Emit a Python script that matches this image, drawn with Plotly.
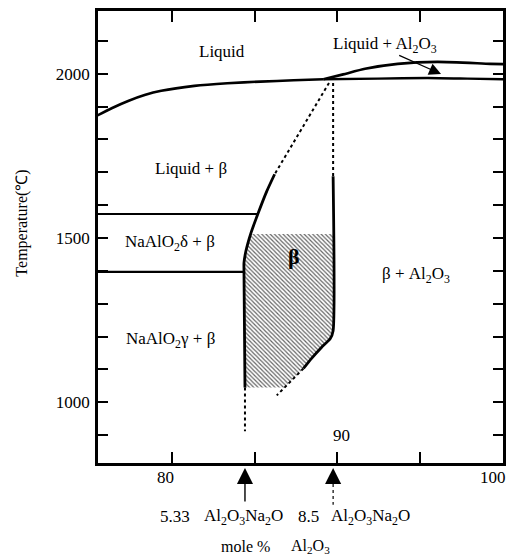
import plotly.graph_objects as go

# ---------------- data ----------------
# liquidus (left, rising to the peritectic point)
liquidus_x = [75.40, 76.31, 77.31, 78.31, 79.32, 81.33, 83.33, 85.34, 87.35, 89.16]
liquidus_T = [1872, 1895, 1917, 1935, 1948, 1963, 1971, 1976, 1980, 1983]
# lower horizontal line (beta + Al2O3 / liquid + Al2O3 boundary)
lower_x = [89.16, 92.47, 95.48, 97.90, 100.10]
lower_T = [1983, 1985, 1987, 1985, 1983]
# upper Al2O3 liquidus
upper_x = [89.16, 90.36, 91.69, 93.67, 96.08, 99.28, 100.10]
upper_T = [1983, 1998, 2015, 2030, 2036, 2030, 2029]
# left beta boundary (solid)
bleft_x = [86.20, 85.72, 85.18, 84.76, 84.46, 84.34, 84.34, 84.40]
bleft_T = [1694, 1642, 1573, 1515, 1461, 1424, 1397, 1045]
# right beta boundary (solid)
bright_x = [89.75, 89.75, 89.58, 89.04, 88.43, 87.95]
bright_T = [1688, 1218, 1194, 1167, 1133, 1103]
# horizontal NaAlO2 transformation lines
delta_x = [75.40, 85.18]
delta_T = [1573, 1573]
gamma_x = [75.40, 84.34]
gamma_T = [1397, 1397]
# dotted (uncertain) boundaries
dot1_x = [89.50, 86.20]
dot1_T = [1972, 1694]
dot2_x = [89.75, 89.75]
dot2_T = [1972, 1688]
dot3_x = [87.95, 86.33]
dot3_T = [1103, 1021]
dot4_x = [84.40, 84.40]
dot4_T = [1045, 912]
# hatched beta region
hatch_x = [84.76, 89.75, 89.75, 89.58, 89.04, 88.43, 87.95, 86.80, 84.40, 84.34, 84.34, 84.46, 84.76]
hatch_T = [1512, 1512, 1218, 1194, 1167, 1133, 1103, 1045, 1045, 1397, 1424, 1461, 1512]
# compositions marked with arrows below the axis
arrow_comp = [84.40, 89.75]

x_ticks = [80, 85, 90, 95]
y_major = [1000, 1500, 2000]
y_major_labels = ["1000", "1500", "2000"]

FONT = "Liberation Serif"
fig = go.Figure()

fig.add_trace(go.Scatter(x=hatch_x, y=hatch_T, mode="lines", fill="toself",
                         line=dict(width=0, color="rgba(0,0,0,0)"),
                         fillcolor="white",
                         fillpattern=dict(shape="\\", fgcolor="#666666", bgcolor="#ffffff",
                                          size=3, solidity=0.4, fillmode="replace"),
                         hoverinfo="skip", showlegend=False))

def line(x, y, w=2.6, dash="solid", shape="spline"):
    fig.add_trace(go.Scatter(x=x, y=y, mode="lines",
                             line=dict(color="black", width=w, dash=dash, shape=shape, smoothing=0.6),
                             hoverinfo="skip", showlegend=False))

line(liquidus_x, liquidus_T)
line(lower_x, lower_T, w=2.4)
line(upper_x, upper_T)
line(bleft_x, bleft_T, w=2.8)
line(bright_x, bright_T, w=2.8)
line(delta_x, delta_T, w=2.2, shape="linear")
line(gamma_x, gamma_T, w=2.2, shape="linear")
for dx, dy in [(dot1_x, dot1_T), (dot2_x, dot2_T), (dot3_x, dot3_T), (dot4_x, dot4_T)]:
    line(dx, dy, w=2, dash="dot", shape="linear")

W, H = 514, 558
L, R, T, B = 98, 8, 9, 95
ph = H - T - B

def py(p):
    return (H - B - p) / ph

def px(p):
    return (p - L) / (W - L - R)

ann = []
def txt(text, x, y, size=17, xref="x", yref="y", **kw):
    ann.append(dict(text=text, x=x, y=y, xref=xref, yref=yref, showarrow=False,
                    font=dict(family=FONT, size=size, color="black"),
                    xanchor="center", yanchor="middle", **kw))

txt("Liquid", 83.0, 2067)
txt("Liquid + Al<sub>2</sub>O<sub>3</sub>", 92.9, 2088)
txt("Liquid + β", 81.15, 1712)
txt("NaAlO<sub>2</sub>δ + β", 79.85, 1485)
txt("NaAlO<sub>2</sub>γ + β", 79.85, 1191)
txt("β + Al<sub>2</sub>O<sub>3</sub>", 94.8, 1388)
txt("<b>β</b>", 87.35, 1445, size=22)
txt("90", 90.25, 900)
txt("80", 79.6, py(478), xref="x", yref="paper")
txt("100", 99.45, py(478), xref="x", yref="paper")
txt("5.33", px(176), py(517), xref="paper", yref="paper")
txt("Al<sub>2</sub>O<sub>3</sub>Na<sub>2</sub>O", px(245), py(517), xref="paper", yref="paper")
txt("8.5", px(310), py(517), xref="paper", yref="paper")
txt("Al<sub>2</sub>O<sub>3</sub>Na<sub>2</sub>O", px(373), py(517), xref="paper", yref="paper")
txt("mole %", px(247), py(547), size=16, xref="paper", yref="paper")
txt("Al<sub>2</sub>O<sub>3</sub>", px(312), py(547), size=16, xref="paper", yref="paper")
txt("Temperature(℃)", px(21), py(222), size=16, xref="paper", yref="paper", textangle=-90)

# leader arrow for Liquid + Al2O3
ann.append(dict(x=96.3, y=1999, ax=93.67, ay=2058, xref="x", yref="y", axref="x", ayref="y",
                text="", showarrow=True, arrowhead=2, arrowsize=2.0, arrowwidth=1.2, arrowcolor="black"))
# composition arrows below axis
ann.append(dict(x=arrow_comp[0], y=py(468), xref="x", yref="paper", ax=0, ay=35,
                text="", showarrow=True, arrowhead=2, arrowsize=2.3, arrowwidth=1.4, arrowcolor="black"))
ann.append(dict(x=arrow_comp[1], y=py(468), xref="x", yref="paper", ax=0, ay=17,
                text="", showarrow=True, arrowhead=2, arrowsize=2.3, arrowwidth=1.4, arrowcolor="black"))

shapes = [dict(type="line", xref="x", yref="paper", x0=arrow_comp[1], x1=arrow_comp[1],
               y0=py(484), y1=py(505), line=dict(color="black", width=1.2, dash="dot"))]

fig.update_layout(
    width=W, height=H, autosize=False,
    margin=dict(l=L, r=R, t=T, b=B),
    paper_bgcolor="white", plot_bgcolor="white",
    showlegend=False,
    annotations=ann, shapes=shapes,
    xaxis=dict(range=[75.48, 100.06], showgrid=False, zeroline=False,
               showline=True, linecolor="black", linewidth=2.6, mirror="ticks",
               ticks="inside", ticklen=11, tickwidth=2, tickcolor="black",
               tickvals=x_ticks, showticklabels=False),
    yaxis=dict(range=[815.2, 2190.9], showgrid=False, zeroline=False,
               showline=True, linecolor="black", linewidth=2.6, mirror="ticks",
               ticks="inside", ticklen=10, tickwidth=2, tickcolor="black",
               tickvals=y_major, ticktext=y_major_labels,
               minor=dict(tick0=900, dtick=100, ticks="inside", ticklen=10, tickwidth=2,
                          tickcolor="black", showgrid=False),
               tickfont=dict(family=FONT, size=17, color="black"), ticklabelstandoff=2),
)

fig.write_html("out.html", config={"displayModeBar": False},
               post_script="document.body.style.margin='0px';document.body.style.overflow='hidden';")
